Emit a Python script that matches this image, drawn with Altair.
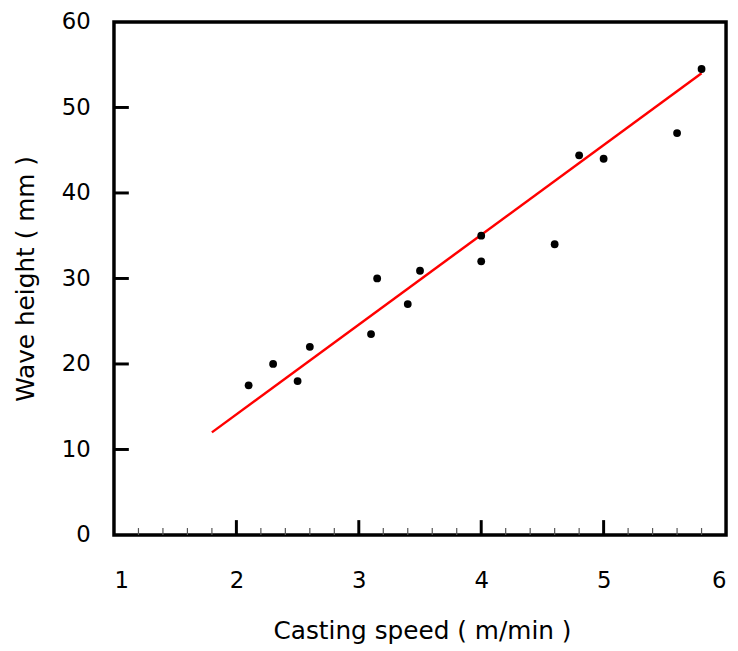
import altair as alt
import pandas as pd

# measured data points
speed = [2.1, 2.3, 2.5, 2.6, 3.1, 3.15, 3.4, 3.5, 4.0, 4.0, 4.6, 4.8, 5.0, 5.6, 5.8]
height = [17.5, 20.0, 18.0, 22.0, 23.5, 30.0, 27.0, 30.9, 35.0, 32.0, 34.0, 44.4, 44.0, 47.0, 54.5]

# fitted line end points
fit_x = [1.8, 5.8]
fit_y = [12.0, 54.0]

# tick positions
x_major = [2, 3, 4, 5]
x_minor = [round(1 + 0.2 * i, 1) for i in range(1, 25) if i % 5 != 0]
y_major = [10, 20, 30, 40, 50]

W, H = 618, 518
FONT = "DejaVu Sans"

xs = alt.Scale(domain=[1, 6], nice=False, zero=False)
ys = alt.Scale(domain=[0, 60], nice=False, zero=False)

pts = pd.DataFrame({"x": speed, "y": height})
fit = pd.DataFrame({"x": fit_x, "y": fit_y})

xaxis = alt.Axis(values=[1, 2, 3, 4, 5, 6], format="d", ticks=False, domain=False, grid=False,
                 labelPadding=35, labelFontSize=23, labelFont=FONT, labelColor="#000",
                 title="Casting speed ( m/min )", titleFont=FONT, titleFontSize=25,
                 titleFontWeight="normal", titleColor="#000", titleX=W / 2 + 2, titleY=97,
                 titleBaseline="middle", titleAlign="center")
yaxis = alt.Axis(values=[0, 10, 20, 30, 40, 50, 60], format="d", ticks=False, domain=False, grid=False,
                 labelPadding=24, labelFontSize=23, labelFont=FONT, labelColor="#000",
                 title="Wave height ( mm )", titleFont=FONT, titleFontSize=25,
                 titleFontWeight="normal", titleColor="#000", titleX=-89, titleY=H / 2,
                 titleAngle=-90, titleBaseline="middle", titleAlign="center")

points = alt.Chart(pts).mark_circle(size=62, color="black", opacity=1).encode(
    x=alt.X("x:Q", scale=xs, axis=xaxis),
    y=alt.Y("y:Q", scale=ys, axis=yaxis),
)

line = alt.Chart(fit).mark_line(color="#ff0000", strokeWidth=2.5).encode(
    x=alt.X("x:Q", scale=xs), y=alt.Y("y:Q", scale=ys)
)

xmaj = alt.Chart(pd.DataFrame({"x": x_major})).mark_rule(color="black", strokeWidth=3).encode(
    x=alt.X("x:Q", scale=xs), y=alt.value(H), y2=alt.value(H - 15)
)
xmin = alt.Chart(pd.DataFrame({"x": x_minor})).mark_rule(color="#555", strokeWidth=1.2).encode(
    x=alt.X("x:Q", scale=xs), y=alt.value(H), y2=alt.value(H - 7)
)
ymaj = alt.Chart(pd.DataFrame({"y": y_major})).mark_rule(color="black", strokeWidth=3).encode(
    y=alt.Y("y:Q", scale=ys), x=alt.value(0), x2=alt.value(15)
)

chart = alt.layer(xmin, xmaj, ymaj, line, points).properties(
    width=W, height=H,
    background="white",
    autosize=alt.AutoSizeParams(type="none"),
    padding={"left": 107, "top": 11, "right": 4, "bottom": 108},
).configure_view(stroke="black", strokeWidth=3.5)

chart.save("out.html", embed_options={"renderer": "svg", "actions": False})
